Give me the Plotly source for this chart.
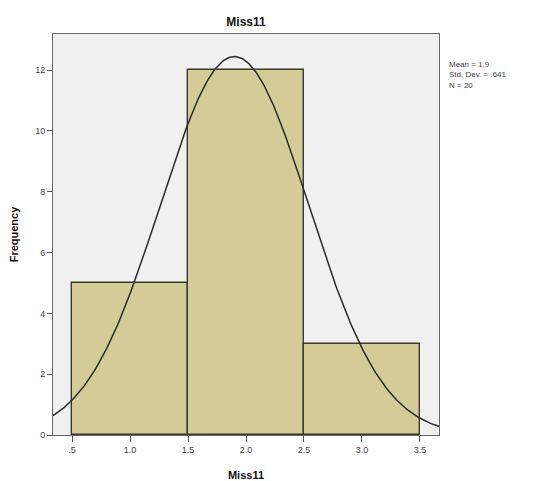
import numpy as np
import plotly.graph_objects as go

# Histogram of Miss11 (bin width 1.0)
bin_centers = [1.0, 2.0, 3.0]
frequencies = [5, 12, 3]
x_tick_vals = [0.5, 1.0, 1.5, 2.0, 2.5, 3.0, 3.5]
x_tick_text = [".5", "1.0", "1.5", "2.0", "2.5", "3.0", "3.5"]
y_tick_vals = [0, 2, 4, 6, 8, 10, 12]

mean_val = 1.9
std_val = 0.641
n_val = 20
bin_width = 1.0

# Fitted normal curve scaled to counts
xs = np.linspace(0.336, 3.664, 300)
ys = n_val * bin_width / (std_val * np.sqrt(2 * np.pi)) * np.exp(-0.5 * ((xs - mean_val) / std_val) ** 2)

fig = go.Figure()
fig.add_trace(go.Bar(
    x=bin_centers, y=frequencies, width=bin_width,
    marker=dict(color="#D3CB98", line=dict(color="#3a3a2a", width=1.4)),
    showlegend=False, hoverinfo="skip",
))
fig.add_trace(go.Scatter(
    x=xs, y=ys, mode="lines",
    line=dict(color="#2a2a2a", width=1.5),
    showlegend=False, hoverinfo="skip",
))

font_family = "Liberation Sans, Arial, sans-serif"
fig.update_layout(
    width=549, height=481,
    margin=dict(l=53, r=110, t=34, b=46),
    paper_bgcolor="white",
    plot_bgcolor="#F0F0F0",
    font=dict(family=font_family, size=9, color="#333333"),
    title=dict(text="<b>Miss11</b>", x=(53 + 439) / 2 / 549, xanchor="center",
               y=1 - 22 / 481, yanchor="middle",
               font=dict(size=12, color="#111111", family=font_family)),
    bargap=0,
    xaxis=dict(
        range=[0.336, 3.664], tickvals=x_tick_vals, ticktext=x_tick_text,
        ticks="outside", ticklen=6, tickcolor="#555555",
        showline=True, linecolor="#666666", linewidth=1, mirror=True,
        showgrid=False, zeroline=False, automargin=False,
        title=dict(text="<b>Miss11</b>", font=dict(size=11, color="#111111"), standoff=17),
        tickfont=dict(size=9, color="#444444"),
    ),
    yaxis=dict(
        range=[0, 13.19], tickvals=y_tick_vals,
        ticks="outside", ticklen=5, tickcolor="#555555",
        showline=True, linecolor="#666666", linewidth=1, mirror=True,
        showgrid=False, zeroline=False, automargin=False,
        title=dict(text="<b>Frequency</b>", font=dict(size=11, color="#111111"), standoff=14),
        tickfont=dict(size=9, color="#444444"),
    ),
    annotations=[dict(
        xref="paper", yref="paper", x=1.02, y=1 - (58 - 34) / 401, xanchor="left", yanchor="top",
        text=f"Mean = {mean_val:g}<br>Std. Dev. = {str(std_val)[1:]}<br>N = {n_val}",
        showarrow=False, align="left",
        font=dict(size=8, color="#444444", family=font_family),
    )],
)

fig.write_html("out.html")
